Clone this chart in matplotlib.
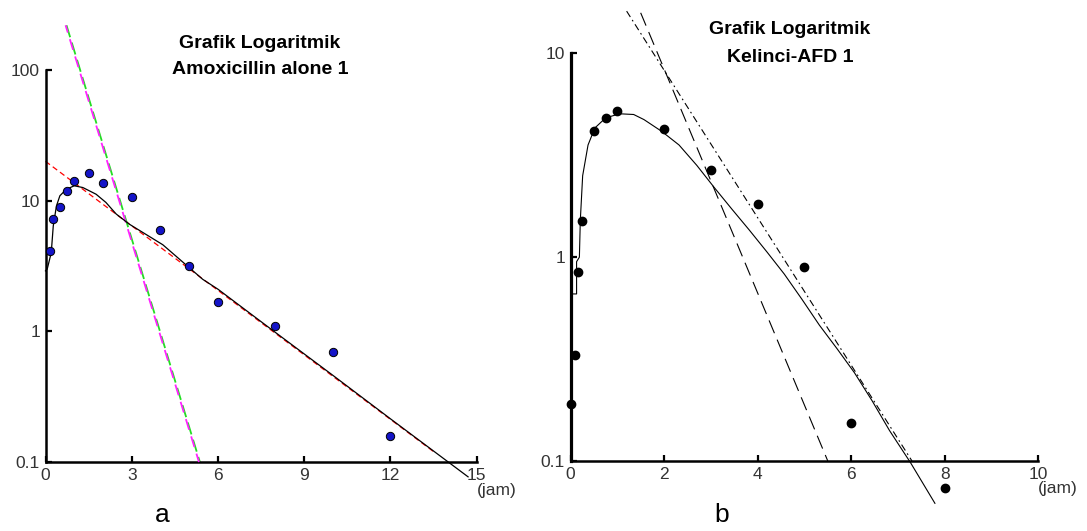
import matplotlib
matplotlib.use("Agg")
import matplotlib.pyplot as plt
from matplotlib.ticker import FixedLocator, FixedFormatter, NullLocator
import matplotlib.transforms as mtransforms

plt.rcParams['font.family'] = ['Liberation Sans', 'DejaVu Sans']
plt.rcParams['lines.scale_dashes'] = False

# ---------------- Panel a: Amoxicillin alone 1 ----------------
a_time = [0.15, 0.25, 0.5, 0.75, 1.0, 1.5, 2.0, 3.0, 4.0, 5.0, 6.0, 8.0, 10.0, 12.0]
a_conc = [4.1, 7.2, 8.9, 11.8, 14.2, 16.4, 13.6, 10.7, 6.0, 3.17, 1.68, 1.09, 0.69, 0.157]

a_fit_t = [0.0, 0.06, 0.2, 0.27, 0.38, 0.5, 0.72, 1.0, 1.3, 1.76, 2.1, 2.46, 2.92,
           4.08, 5.47, 6.0, 8.0, 10.0, 12.0, 14.7]
a_fit_c = [2.9, 3.0, 4.0, 6.4, 9.1, 10.9, 12.2, 13.0, 12.6, 11.2, 9.7, 7.9, 6.6,
           4.6, 2.5, 2.1, 0.98, 0.46, 0.214, 0.077]

a_elim_t = [0.0, 13.5]          # terminal (elimination) line
a_elim_c = [20.0, 0.12]
a_resid_t = [0.73, 5.37]        # residual (absorption) line
a_resid_c = [220.0, 0.1]

a_xticks = [0, 3, 6, 9, 12, 15]
a_yticks = [0.1, 1, 10, 100]
a_ylabels = ['0.1', '1', '10', '100']

# ---------------- Panel b: Kelinci-AFD 1 ----------------
b_time = [0.0, 0.1, 0.17, 0.25, 0.5, 0.75, 1.0, 2.0, 3.0, 4.0, 5.0, 6.0, 8.0]
b_conc = [0.19, 0.33, 0.85, 1.51, 4.17, 4.82, 5.21, 4.25, 2.69, 1.82, 0.89, 0.154, 0.074]

b_fit_t = [0.05, 0.13, 0.13, 0.19, 0.21, 0.26, 0.375, 0.52, 0.75, 1.05, 1.35, 1.57,
           1.95, 2.32, 2.70, 3.07, 3.45, 3.82, 4.2, 4.57, 4.95, 5.32, 5.7, 6.07,
           6.45, 6.82, 7.27, 7.79]
b_fit_c = [0.66, 0.66, 0.95, 1.0, 1.52, 2.51, 3.55, 4.3, 4.82, 5.05, 5.01, 4.73,
           4.14, 3.55, 2.82, 2.2, 1.72, 1.36, 1.06, 0.826, 0.62, 0.464, 0.355, 0.271,
           0.197, 0.141, 0.098, 0.062]

b_line1_t = [1.5, 5.5]          # long-dash line
b_line1_c = [15.8, 0.1]
b_line2_t = [1.2, 7.3]          # dash-dot line
b_line2_c = [16.1, 0.1]

b_xticks = [0, 2, 4, 6, 8, 10]
b_yticks = [0.1, 1, 10]
b_ylabels = ['0.1', '1', '10']

W, H = 1087, 531
fig = plt.figure(figsize=(W / 100, H / 100), dpi=100)
fig.patch.set_facecolor('white')


def axes_px(x0, x1, ytop, ybot):
    return [x0 / W, 1 - ybot / H, (x1 - x0) / W, (ybot - ytop) / H]


def style_axes(ax, xticks, yticks, ylabels, xlim, ylim, ylw):
    ax.set_yscale('log')
    ax.set_xlim(*xlim)
    ax.set_ylim(*ylim)
    for s in ['top', 'right']:
        ax.spines[s].set_visible(False)
    ax.spines['left'].set_linewidth(ylw)
    ax.spines['bottom'].set_linewidth(1.8)
    ax.xaxis.set_major_locator(FixedLocator(xticks))
    ax.xaxis.set_major_formatter(FixedFormatter([str(v) for v in xticks]))
    ax.yaxis.set_major_locator(FixedLocator(yticks))
    ax.yaxis.set_major_formatter(FixedFormatter(ylabels))
    ax.yaxis.set_minor_locator(NullLocator())
    ax.xaxis.set_minor_locator(NullLocator())
    ax.tick_params(axis='both', direction='in', length=4.5, width=1.6,
                   labelsize=12.5, colors='black', pad=4.5)
    ax.tick_params(axis='y', pad=4)
    for lab in ax.get_xticklabels() + ax.get_yticklabels():
        lab.set_color('#333333')
    ax.set_facecolor('none')


def title2(xc, y1, y2, line1, line2):
    fig.text(xc / W, 1 - y1 / H, line1, ha='center', va='center',
             fontsize=14, fontweight='bold')
    fig.text(xc / W, 1 - y2 / H, line2, ha='center', va='center',
             fontsize=14, fontweight='bold')


# ---- Panel a ----
axa = fig.add_axes(axes_px(45.5, 476.7, 70, 462))
style_axes(axa, a_xticks, a_yticks, a_ylabels, (0, 15), (0.1, 100), 1.8)

axa.plot(a_elim_t, a_elim_c, color='red', lw=0.9, ls=(0, (4, 2.5)), clip_on=False, zorder=2)
axa.plot(a_resid_t, a_resid_c, color='#22dd22', lw=1.3, ls=(0, (9, 4)), clip_on=False, zorder=2)
shift = mtransforms.offset_copy(axa.transData, fig=fig, x=-0.9, y=0, units='dots')
axa.plot(a_resid_t, a_resid_c, color='#ff22ff', lw=1.3, ls=(2.5, (8, 5)), clip_on=False,
         zorder=3, transform=shift)
axa.plot(a_fit_t, a_fit_c, color='black', lw=0.9, clip_on=False, zorder=4)
axa.plot(a_time, a_conc, ls='none', marker='o', ms=6, mfc='#1414c8', mec='black',
         mew=0.7, clip_on=False, zorder=5)

title2(260, 43, 70, 'Grafik Logaritmik', 'Amoxicillin alone 1')

fig.text(477 / W, 1 - 491 / H, '(jam)', ha='left', va='center', fontsize=12.5, color='#333333')
fig.text(162 / W, 1 - 515 / H, 'a', ha='center', va='center', fontsize=19)

# ---- Panel b ----
axb = fig.add_axes(axes_px(570.5, 1038.3, 53.3, 461))
style_axes(axb, b_xticks, b_yticks, b_ylabels, (0, 10), (0.1, 10), 2.3)

axb.plot(b_line1_t, b_line1_c, color='black', lw=0.8, ls=(0, (10, 5)), clip_on=False, zorder=2)
axb.plot(b_line2_t, b_line2_c, color='black', lw=0.8, ls=(0, (5, 2.5, 1.2, 2.5)),
         clip_on=False, zorder=2)
axb.plot(b_fit_t, b_fit_c, color='black', lw=0.8, clip_on=False, zorder=3)
axb.plot(b_time, b_conc, ls='none', marker='o', ms=6, mfc='black', mec='black',
         clip_on=False, zorder=4)

title2(790, 29, 57, 'Grafik Logaritmik', 'Kelinci-AFD 1')

fig.text(1038 / W, 1 - 488 / H, '(jam)', ha='left', va='center', fontsize=12.5, color='#333333')
fig.text(722 / W, 1 - 515 / H, 'b', ha='center', va='center', fontsize=19)

fig.savefig('out.png', dpi=100, facecolor='white')
